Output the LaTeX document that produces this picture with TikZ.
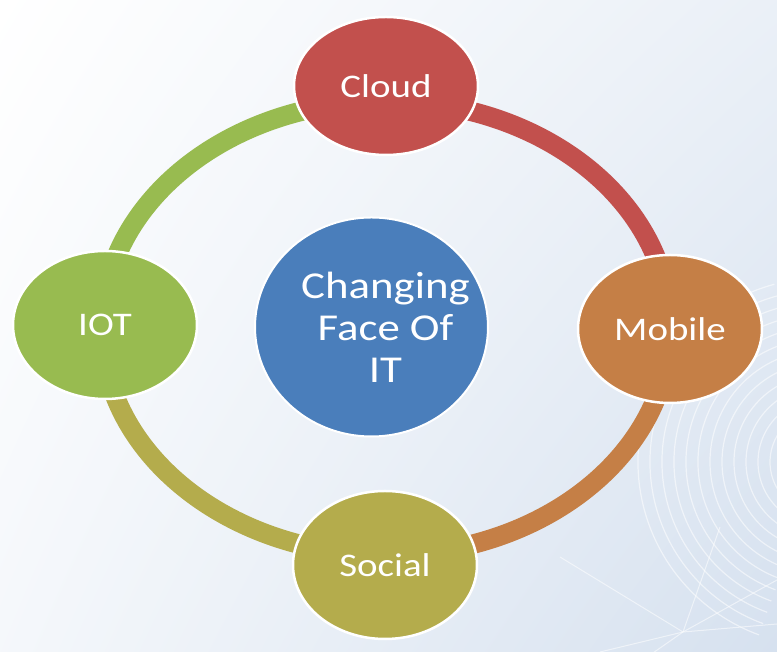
\documentclass[tikz,border=0pt]{standalone}
\usepackage{fontspec}
\setmainfont{Carlito}[FakeStretch=1.18]
\usetikzlibrary{shapes.geometric, positioning, calc, shadings}
\definecolor{hubblue}{RGB}{74, 126, 187}
\definecolor{cloudred}{RGB}{194, 80, 77}
\definecolor{mobileorange}{RGB}{197, 127, 70}
\definecolor{socialolive}{RGB}{180, 172, 76}
\definecolor{iotgreen}{RGB}{152, 187, 80}
\definecolor{bgblue}{RGB}{214, 225, 239}
\tikzstyle{hub} = [ellipse, minimum width=233pt, minimum height=219pt, inner sep=-30pt, draw=white, line width=2pt, fill=hubblue, text=white, align=center, font=\fontsize{38}{42}\selectfont]
\tikzstyle{item} = [ellipse, minimum width=184pt, minimum height=148pt, inner sep=0pt, draw=white, line width=2.5pt, text=white, font=\fontsize{33}{36}\selectfont]
\tikzstyle{ring} = [line width=19.5pt]
\tikzstyle{print} = [white, line width=1.2pt, opacity=0.55]

\begin{document}
\begin{tikzpicture}[x=1pt, y=1pt, node distance=242pt]
\useasboundingbox (0,0) rectangle (777,652);

% Background with fingerprint
\shade[upper left=white, upper right=bgblue!50, lower left=bgblue!25, lower right=bgblue] (0,0) rectangle (777,652);
\begin{scope}
\clip (0,0) rectangle (777,652);
\coordinate (fp_c) at (822,190);
\foreach \r in {40,52,...,184}
  \draw[print] ($(fp_c)+(105:\r pt)$) arc[start angle=105, end angle=250, radius=\r pt];
\coordinate (net_c) at (683,20);
\foreach \p in {(560,95), (777,72), (600,0), (777,28), (720,125), (640,-10)}
  \draw[print, line width=1pt] (net_c) -- \p;
\end{scope}

% Ring around the hub
\coordinate (ring_n) at (386,551);
\coordinate (ring_e) at (670,324);
\coordinate (ring_s) at (386,97);
\coordinate (ring_w) at (102,324);
\draw[ring, draw=cloudred] (ring_n) arc[start angle=90, end angle=0, x radius=284pt, y radius=227pt];
\draw[ring, draw=mobileorange] (ring_e) arc[start angle=0, end angle=-90, x radius=284pt, y radius=227pt];
\draw[ring, draw=socialolive] (ring_s) arc[start angle=270, end angle=180, x radius=284pt, y radius=227pt];
\draw[ring, draw=iotgreen] (ring_w) arc[start angle=180, end angle=90, x radius=284pt, y radius=227pt];

% Hub and items
\node (hub) [hub] at (371.5,325) {\hspace*{28pt}Changing\\\hspace*{28pt}Face Of\\\hspace*{28pt}IT};
\node (cloud) [item, fill=cloudred, minimum height=138pt, above of=hub, xshift=14.5pt, yshift=-1pt] {Cloud};
\node (mobile) [item, fill=mobileorange, right of=hub, xshift=56.5pt, yshift=-2pt] {Mobile};
\node (social) [item, fill=socialolive, below of=hub, xshift=13.5pt, yshift=4pt] {Social};
\node (iot) [item, fill=iotgreen, left of=hub, xshift=-24.5pt, yshift=2pt] {IOT};

\end{tikzpicture}
\end{document}
